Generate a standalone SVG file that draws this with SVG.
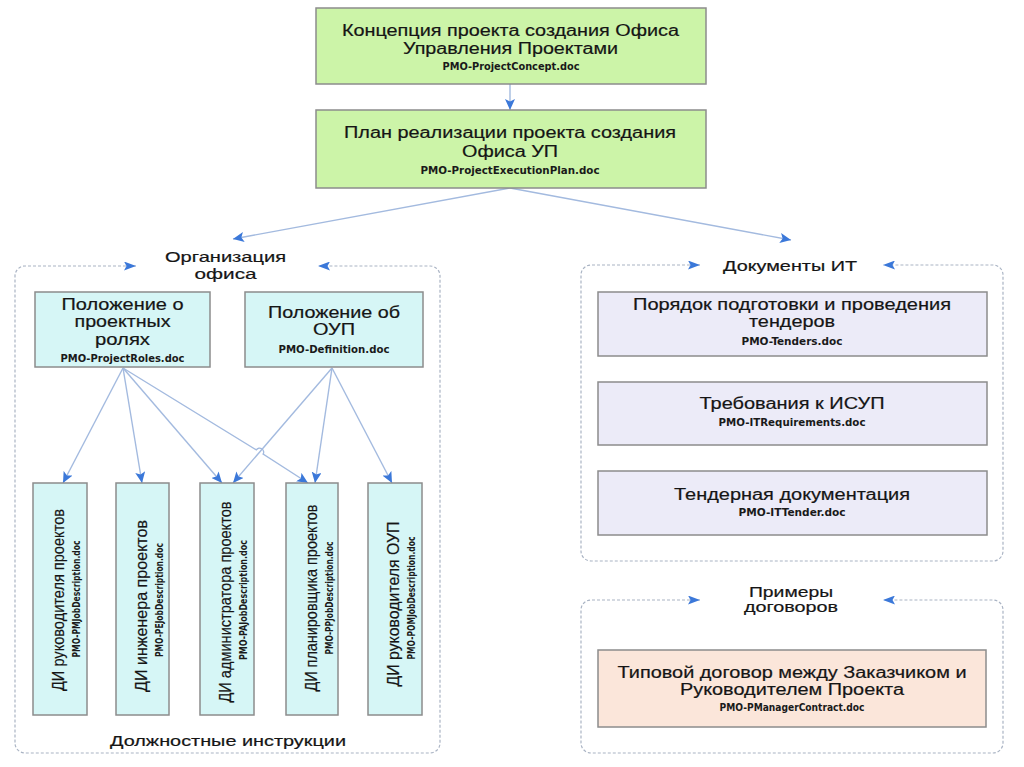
<svg xmlns="http://www.w3.org/2000/svg" width="1024" height="767" viewBox="0 0 1024 767">
<defs>
<marker id="ah" markerUnits="userSpaceOnUse" markerWidth="12" markerHeight="10" refX="11" refY="5" orient="auto"><path d="M0,0 L11,5 L0,10 L2.5,5 z" fill="#3b78d9"/></marker>
<marker id="ga" markerUnits="userSpaceOnUse" markerWidth="13" markerHeight="9" refX="12" refY="4.5" orient="auto-start-reverse"><path d="M0,0 L12,4.5 L0,9 L2.5,4.5 z" fill="#3b78d9"/></marker>
</defs>
<style>
.box{stroke:#8c8c8c;stroke-width:1.5}
.green{fill:#ccf4a8}
.cyan{fill:#d6f6f6}
.lav{fill:#ecebf8}
.peach{fill:#fbe6da}
.t{font-family:"Liberation Sans",Arial,sans-serif;font-size:16px;fill:#151515;stroke:#151515;stroke-width:0.2;text-anchor:middle}
.h{font-family:"Liberation Sans",Arial,sans-serif;font-size:15px;fill:#151515;stroke:#151515;stroke-width:0.2;text-anchor:middle}
.v{font-family:"Liberation Sans",Arial,sans-serif;font-size:17px;fill:#151515;stroke:#151515;stroke-width:0.2;text-anchor:middle}
.f{font-family:"Liberation Sans Narrow","DejaVu Sans Condensed",sans-serif;font-weight:bold;font-size:11px;fill:#1a1a1a;text-anchor:middle}
.grp{fill:none;stroke:#aab4c4;stroke-width:1.2;stroke-dasharray:3 2}
.con{fill:none;stroke:#a3badf;stroke-width:1.4}
</style>
<rect width="1024" height="767" fill="#ffffff"/>

<g id="groups">
<path class="grp" d="M136,266 H25 A10,10 0 0 0 15,276 V743 A10,10 0 0 0 25,753 H430 A10,10 0 0 0 440,743 V276 A10,10 0 0 0 430,266 H318" marker-start="url(#ga)" marker-end="url(#ga)"/>
<text class="h" x="225.5" y="262" textLength="121" lengthAdjust="spacingAndGlyphs">Организация</text>
<text class="h" x="225.5" y="279" textLength="62" lengthAdjust="spacingAndGlyphs">офиса</text>
<text class="h" x="228" y="746" textLength="236" lengthAdjust="spacingAndGlyphs">Должностные инструкции</text>

<path class="grp" d="M700,265 H591 A10,10 0 0 0 581,275 V551 A10,10 0 0 0 591,561 H993 A10,10 0 0 0 1003,551 V275 A10,10 0 0 0 993,265 H883" marker-start="url(#ga)" marker-end="url(#ga)"/>
<text class="h" x="790" y="271" textLength="134" lengthAdjust="spacingAndGlyphs">Документы ИТ</text>

<path class="grp" d="M700,600 H591 A10,10 0 0 0 581,610 V743 A10,10 0 0 0 591,753 H993 A10,10 0 0 0 1003,743 V610 A10,10 0 0 0 993,600 H883" marker-start="url(#ga)" marker-end="url(#ga)"/>
<text class="h" x="791" y="597" textLength="84" lengthAdjust="spacingAndGlyphs">Примеры</text>
<text class="h" x="791" y="612" textLength="94" lengthAdjust="spacingAndGlyphs">договоров</text>
</g>

<g id="connectors">
<path class="con" d="M510,84 V110" marker-end="url(#ah)"/>
<path class="con" d="M510,188 L233,239" marker-end="url(#ah)"/>
<path class="con" d="M510,188 L791,240" marker-end="url(#ah)"/>
<path class="con" d="M123,368 L63,483" marker-end="url(#ah)"/>
<path class="con" d="M123,368 L142,483" marker-end="url(#ah)"/>
<path class="con" d="M123,368 L222,483" marker-end="url(#ah)"/>
<path class="con" d="M123,368 L256.3,449.9 A4,4 0 0 1 263.1,454.1 L308,483" marker-end="url(#ah)"/>
<path class="con" d="M332,368 L233,483" marker-end="url(#ah)"/>
<path class="con" d="M332,368 L315,483" marker-end="url(#ah)"/>
<path class="con" d="M332,368 L392,483" marker-end="url(#ah)"/>
</g>

<g id="concept">
<rect class="box green" x="316" y="8" width="390" height="76"/>
<text class="t" x="510.5" y="36" textLength="337" lengthAdjust="spacingAndGlyphs">Концепция проекта создания Офиса</text>
<text class="t" x="510.5" y="54" textLength="215" lengthAdjust="spacingAndGlyphs">Управления Проектами</text>
<text class="f" x="511" y="70" textLength="137" lengthAdjust="spacingAndGlyphs">PMO-ProjectConcept.doc</text>
</g>

<g id="plan">
<rect class="box green" x="316" y="110" width="390" height="78"/>
<text class="t" x="510" y="138" textLength="332" lengthAdjust="spacingAndGlyphs">План реализации проекта создания</text>
<text class="t" x="510" y="157" textLength="96" lengthAdjust="spacingAndGlyphs">Офиса УП</text>
<text class="f" x="510" y="174" textLength="179" lengthAdjust="spacingAndGlyphs">PMO-ProjectExecutionPlan.doc</text>
</g>

<g id="roles">
<rect class="box cyan" x="35" y="292" width="175" height="75"/>
<text class="t" x="122.5" y="310" textLength="122" lengthAdjust="spacingAndGlyphs">Положение о</text>
<text class="t" x="122.5" y="327" textLength="96" lengthAdjust="spacingAndGlyphs">проектных</text>
<text class="t" x="122.5" y="345" textLength="55" lengthAdjust="spacingAndGlyphs">ролях</text>
<text class="f" x="122.5" y="362" textLength="124" lengthAdjust="spacingAndGlyphs">PMO-ProjectRoles.doc</text>
</g>

<g id="definition">
<rect class="box cyan" x="245" y="292" width="178" height="75"/>
<text class="t" x="334" y="318" textLength="132" lengthAdjust="spacingAndGlyphs">Положение об</text>
<text class="t" x="334" y="335" textLength="42" lengthAdjust="spacingAndGlyphs">ОУП</text>
<text class="f" x="334" y="353" textLength="111" lengthAdjust="spacingAndGlyphs">PMO-Definition.doc</text>
</g>

<g id="di-pm">
<rect class="box cyan" x="33" y="483" width="54" height="232"/>
<text class="v" transform="translate(64,600) rotate(-90)" textLength="182" lengthAdjust="spacingAndGlyphs">ДИ руководителя проектов</text>
<text class="f" transform="translate(80,599) rotate(-90)" textLength="117" lengthAdjust="spacingAndGlyphs">PMO-PMJobDescription.doc</text>
</g>

<g id="di-pe">
<rect class="box cyan" x="116" y="483" width="53" height="232"/>
<text class="v" transform="translate(147,606) rotate(-90)" textLength="172" lengthAdjust="spacingAndGlyphs">ДИ инженера проектов</text>
<text class="f" transform="translate(163,600) rotate(-90)" textLength="114" lengthAdjust="spacingAndGlyphs">PMO-PEJobDescription.doc</text>
</g>

<g id="di-pa">
<rect class="box cyan" x="200" y="483" width="54" height="232"/>
<text class="v" transform="translate(231,602) rotate(-90)" textLength="201" lengthAdjust="spacingAndGlyphs">ДИ администратора проектов</text>
<text class="f" transform="translate(247,600) rotate(-90)" textLength="120" lengthAdjust="spacingAndGlyphs">PMO-PAJobDescription.doc</text>
</g>

<g id="di-pp">
<rect class="box cyan" x="286" y="483" width="52" height="232"/>
<text class="v" transform="translate(317,598) rotate(-90)" textLength="187" lengthAdjust="spacingAndGlyphs">ДИ планировщика проектов</text>
<text class="f" transform="translate(333,598) rotate(-90)" textLength="113" lengthAdjust="spacingAndGlyphs">PMO-PPJobDescription.doc</text>
</g>

<g id="di-pom">
<rect class="box cyan" x="368" y="483" width="54" height="232"/>
<text class="v" transform="translate(399,604) rotate(-90)" textLength="165" lengthAdjust="spacingAndGlyphs">ДИ руководителя ОУП</text>
<text class="f" transform="translate(415,598) rotate(-90)" textLength="123" lengthAdjust="spacingAndGlyphs">PMO-POMJobDescription.doc</text>
</g>

<g id="tenders">
<rect class="box lav" x="598" y="292" width="389" height="64"/>
<text class="t" x="792" y="310" textLength="318" lengthAdjust="spacingAndGlyphs">Порядок подготовки и проведения</text>
<text class="t" x="792" y="327" textLength="86" lengthAdjust="spacingAndGlyphs">тендеров</text>
<text class="f" x="792" y="345" textLength="101" lengthAdjust="spacingAndGlyphs">PMO-Tenders.doc</text>
</g>

<g id="itreq">
<rect class="box lav" x="598" y="382" width="389" height="63"/>
<text class="t" x="792" y="409" textLength="185" lengthAdjust="spacingAndGlyphs">Требования к ИСУП</text>
<text class="f" x="792" y="426" textLength="147" lengthAdjust="spacingAndGlyphs">PMO-ITRequirements.doc</text>
</g>

<g id="ittender">
<rect class="box lav" x="598" y="471" width="389" height="64"/>
<text class="t" x="792" y="500" textLength="236" lengthAdjust="spacingAndGlyphs">Тендерная документация</text>
<text class="f" x="792" y="516" textLength="107" lengthAdjust="spacingAndGlyphs">PMO-ITTender.doc</text>
</g>

<g id="contract">
<rect class="box peach" x="598" y="650" width="388" height="77"/>
<text class="t" x="792" y="678" textLength="349" lengthAdjust="spacingAndGlyphs">Типовой договор между Заказчиком и</text>
<text class="t" x="792" y="695" textLength="224" lengthAdjust="spacingAndGlyphs">Руководителем Проекта</text>
<text class="f" x="792" y="711" textLength="145" lengthAdjust="spacingAndGlyphs">PMO-PManagerContract.doc</text>
</g>
</svg>
